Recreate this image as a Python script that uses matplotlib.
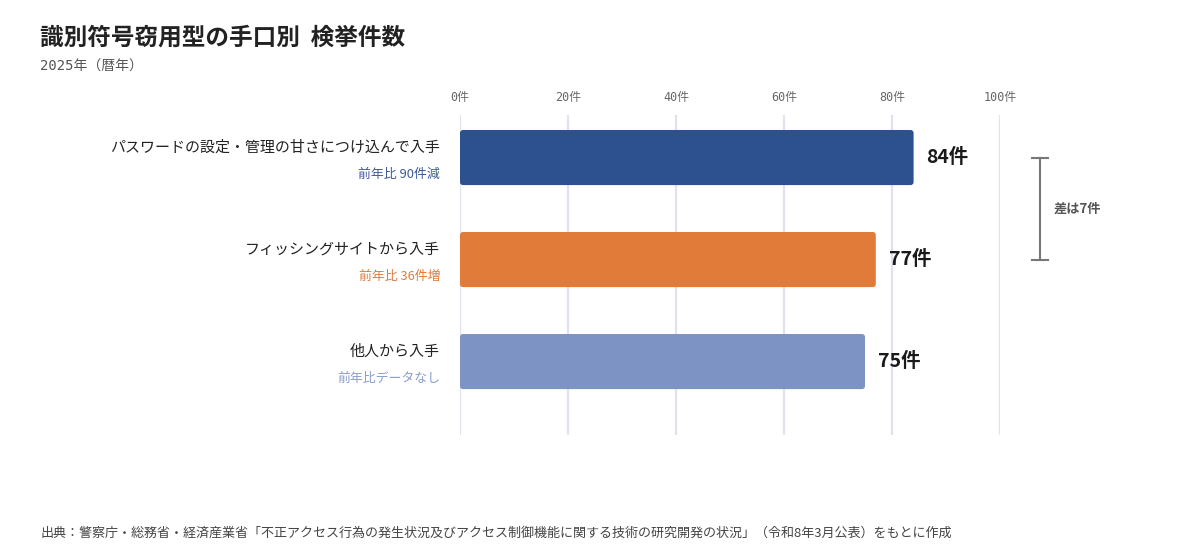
import numpy as np
import matplotlib.pyplot as plt
from matplotlib.patches import FancyBboxPatch

plt.rcParams['font.family'] = ['Noto Sans CJK JP', 'DejaVu Sans']

categories = ["パスワードの設定・管理の甘さにつけ込んで入手",
              "フィッシングサイトから入手",
              "他人から入手"]
notes = ["前年比 90件減", "前年比 36件増", "前年比データなし"]
counts = [84, 77, 75]
bar_colors = ["#2d518f", "#e07b3a", "#7d93c4"]
note_colors = ["#3c5b96", "#e07b3a", "#8a9dcc"]
ticks = [0, 20, 40, 60, 80, 100]

fig = plt.figure(figsize=(12, 5.6), dpi=100)
ax = fig.add_axes([460 / 1200, 1 - 435 / 560, 540 / 1200, 320 / 560])

y = np.arange(len(categories))
bars = ax.barh(y, counts, height=0.54, color="none")
for b, c in zip(bars, bar_colors):
    x0, y0 = b.get_x(), b.get_y()
    w, h = b.get_width(), b.get_height()
    ax.add_patch(FancyBboxPatch((x0, y0), w, h,
                                boxstyle="round,pad=0,rounding_size=0.55",
                                mutation_aspect=0.053, fc=c, ec="none", zorder=3))

ax.set_xlim(0, 100)
ax.set_ylim(2.72, -0.417)
ax.set_xticks(ticks)
ax.set_xticklabels([f"{t}件" for t in ticks], family=['DejaVu Sans Mono', 'Noto Sans CJK JP'],
                   fontsize=8.5, color="#666666")
ax.xaxis.tick_top()
ax.tick_params(axis="x", length=0, pad=8)
ax.set_yticks([])
ax.grid(axis="x", color="#dfe3ee", lw=1.6, zorder=0)
for s in ax.spines.values():
    s.set_visible(False)

for i, (cat, note, v) in enumerate(zip(categories, notes, counts)):
    ax.text(-20 / 5.4, i - 0.1, cat, ha="right", va="center", fontsize=10.8, color="#222222")
    ax.text(-20 / 5.4, i + 0.165, note, ha="right", va="center", fontsize=9.3, color=note_colors[i])
    ax.text(v + 13 / 5.4, i, f"{v}件", ha="left", va="center", fontsize=14,
            fontweight="bold", color="#1a1a1a")

# difference bracket between first two bars
bx = 107.4
cap = 1.5
ax.plot([bx, bx], [0, 1], color="#777777", lw=1.5, clip_on=False)
ax.plot([bx - cap, bx + cap], [0, 0], color="#777777", lw=1.5, clip_on=False)
ax.plot([bx - cap, bx + cap], [1, 1], color="#777777", lw=1.5, clip_on=False)
ax.text(bx + 2.6, 0.5, f"差は{counts[0] - counts[1]}件", ha="left", va="center",
        fontsize=9.5, fontweight="bold", color="#555555", clip_on=False)

fig.text(40 / 1200, 1 - 38 / 560, "識別符号窃用型の手口別  検挙件数", ha="left", va="center",
         fontsize=17, fontweight="bold", color="#222222")
fig.text(40 / 1200, 1 - 67 / 560, "2025年（暦年）", ha="left", va="center",
         fontsize=10, color="#555555", family=['DejaVu Sans Mono', 'Noto Sans CJK JP'])
fig.text(40 / 1200, 1 - 533 / 560,
         "出典：警察庁・総務省・経済産業省「不正アクセス行為の発生状況及びアクセス制御機能に関する技術の研究開発の状況」（令和8年3月公表）をもとに作成",
         ha="left", va="center", fontsize=9.4, color="#444444")

fig.savefig("out.png", dpi=100)
